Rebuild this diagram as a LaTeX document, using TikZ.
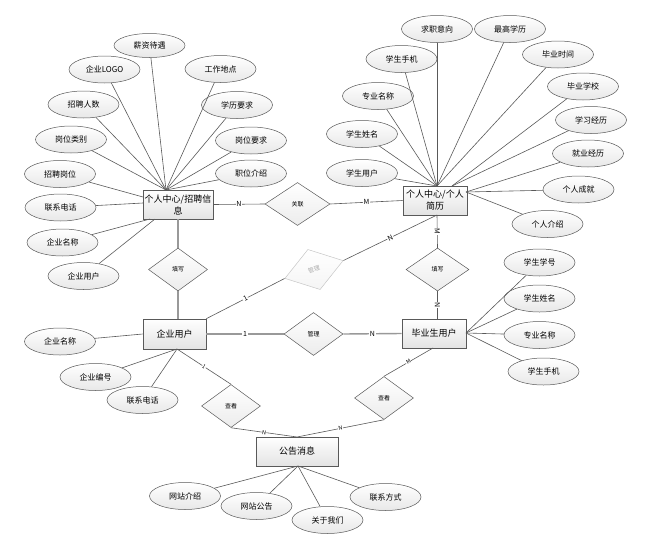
\documentclass[tikz,border=0pt]{standalone}
\usepackage{fontspec}
\setmainfont{Noto Sans CJK SC}
\usetikzlibrary{shapes.geometric,shadows}
\begin{document}
\begin{tikzpicture}[x=1pt,y=-1pt,
 attr/.style={ellipse, draw=gray!70!black, line width=0.5pt, top color=white, bottom color=gray!18, minimum width=71pt, minimum height=27pt, inner sep=0pt, font=\fontsize{8}{9}\selectfont},
 ent/.style={rectangle, draw=gray!70!black, line width=0.6pt, top color=white, bottom color=gray!22, minimum height=29pt, inner sep=1pt, align=center, font=\fontsize{9}{12}\selectfont, drop shadow={shadow xshift=1pt, shadow yshift=-1pt, opacity=0.3}},
 rel/.style={diamond, draw=gray!70!black, line width=0.5pt, top color=white, bottom color=gray!15, inner sep=0pt, minimum width=59pt, minimum height=43pt, font=\fontsize{6}{7}\selectfont},
 aline/.style={draw=gray!70!black, line width=0.6pt},
 tline/.style={draw=gray!80, line width=1.4pt},
 card/.style={fill=white, inner sep=0.6pt, font=\fontsize{7}{7}\selectfont},
 scard/.style={fill=white, inner sep=0.4pt, font=\fontsize{5.5}{6}\selectfont},
]
\useasboundingbox (0,0) rectangle (645,549);

% entities
\node[ent, minimum width=70pt] (zp) at (178,204.5) {个人中心/招聘信\\息};
\node[ent, minimum width=64pt] (jl) at (435,200.5) {个人中心/个人\\简历};
\node[ent, minimum width=63pt, minimum height=30pt] (qy) at (174.5,334) {企业用户};
\node[ent, minimum width=64pt] (by) at (434,333.5) {毕业生用户};
\node[ent, minimum width=82pt] (gg) at (297,451.5) {公告消息};

% connection points
\coordinate (z1) at (166,190);
\coordinate (z2) at (143,197);
\coordinate (z3) at (143,203);
\coordinate (z4) at (150,219);
\coordinate (z5) at (155,219);
\coordinate (ja) at (437,186);
\coordinate (jb) at (452,186);
\coordinate (jc) at (466,192);
\coordinate (jd) at (437,215);
\coordinate (qc) at (177,349);
\coordinate (bc) at (433,348);
\coordinate (br) at (466,333);
\coordinate (gt) at (297,437);
\coordinate (gb) at (298,466);

% attributes of 招聘信息
\node[attr, minimum height=24pt] (a1) at (149.5,45.5) {薪资待遇};
\node[attr] (a2) at (104.5,69.5) {企业LOGO};
\node[attr] (a3) at (220.5,69) {工作地点};
\node[attr] (a4) at (83.5,104.5) {招聘人数};
\node[attr] (a5) at (237,105) {学历要求};
\node[attr] (a6) at (71,139.5) {岗位类别};
\node[attr] (a7) at (251,140.5) {岗位要求};
\node[attr] (a8) at (60,174) {招聘岗位};
\node[attr] (a9) at (251,173.5) {职位介绍};
\node[attr] (a10) at (60.5,207.5) {联系电话};
\node[attr] (a11) at (62.5,242.5) {企业名称};
\node[attr] (a12) at (83.5,276) {企业用户};
\foreach \n in {a1,a2,a3,a4,a5,a6,a7,a9} \draw[aline] (\n) -- (z1);
\draw[aline] (a8) -- (z2);
\draw[aline] (a10) -- (z3);
\draw[aline] (a11) -- (z4);
\draw[aline] (a12) -- (z5);

% attributes of 简历
\node[attr] (b1) at (437,29) {求职意向};
\node[attr] (b2) at (510,29) {最高学历};
\node[attr] (b3) at (401.5,59) {学生手机};
\node[attr] (b4) at (558,54.5) {毕业时间};
\node[attr] (b5) at (378,96) {专业名称};
\node[attr] (b6) at (583,86.5) {毕业学校};
\node[attr] (b7) at (362,134) {学生姓名};
\node[attr] (b8) at (591,120) {学习经历};
\node[attr] (b9) at (362,173) {学生用户};
\node[attr] (b10) at (588,153.5) {就业经历};
\node[attr] (b11) at (578.5,189.5) {个人成就};
\node[attr] (b12) at (547.5,224) {个人介绍};
\foreach \n in {b1,b2,b3,b4,b5,b7,b9} \draw[aline] (\n) -- (ja);
\foreach \n in {b6,b8} \draw[aline] (\n) -- (jb);
\foreach \n in {b10,b11,b12} \draw[aline] (\n) -- (jc);

% attributes of 企业用户
\node[attr] (c1) at (60,341.5) {企业名称};
\node[attr] (c2) at (95.5,377) {企业编号};
\node[attr] (c3) at (142.5,400) {联系电话};
\draw[aline] (c1) -- (qy.west);
\draw[aline] (c2) -- (qc);
\draw[aline] (c3) -- (qc);

% attributes of 毕业生用户
\node[attr] (d1) at (539.5,262.5) {学生学号};
\node[attr] (d2) at (539.5,298.5) {学生姓名};
\node[attr] (d3) at (539.5,335) {专业名称};
\node[attr] (d4) at (543.5,371.5) {学生手机};
\foreach \n in {d1,d2,d3,d4} \draw[aline] (\n) -- (br);

% attributes of 公告消息
\node[attr] (e1) at (185,496) {网站介绍};
\node[attr] (e2) at (256.5,506) {网站公告};
\node[attr] (e3) at (327.5,520) {关于我们};
\node[attr] (e4) at (385.5,497) {联系方式};
\foreach \n in {e1,e2,e3,e4} \draw[aline] (\n) -- (gb);

% relationships
\node[rel, minimum width=65pt] (gl) at (297.5,204) {关联};
\node[rel] (tx1) at (178,269.5) {填写};
\node[rel, minimum width=63pt] (tx2) at (437.5,269.5) {填写};
\node[rel] (gl3) at (313.5,334) {管理};
\node[rel] (ck1) at (231,406) {查看};
\node[rel] (ck2) at (384,398) {查看};
\node[rel, rotate=17, draw=gray!45, bottom color=gray!8, text=gray!65, minimum width=61pt, minimum height=42pt] (gl2) at (314,269.5) {管理};

\draw[aline] (zp.east) -- node[card]{N} (gl.west);
\draw[aline] (gl.east) -- node[card]{M} (jl.west);
\draw[tline] (zp.south -| tx1) -- (tx1.north);
\draw[tline] (tx1.south) -- (tx1.south |- qy.north);
\draw[aline] (jd) -- node[card,sloped]{M} (tx2.north);
\draw[aline] (tx2.south) -- node[card,sloped]{N} (tx2.south |- by.north);
\draw[aline] (gl2.east) -- node[card,sloped]{N} (jd);
\draw[aline] (gl2.west) -- node[card,sloped]{1} (qy.north east);
\draw[tline] (qy.east) -- node[card]{1} (gl3.west);
\draw[tline] (gl3.east) -- node[card]{N} (by.west);
\draw[aline] (qc) -- node[scard,sloped]{1} (ck1.north);
\draw[aline] (ck1.south) -- node[scard,sloped]{N} (gt);
\draw[aline] (bc) -- node[scard,sloped]{M} (ck2.north);
\draw[aline] (ck2.south) -- node[scard,sloped]{N} (gt);
\end{tikzpicture}
\end{document}
